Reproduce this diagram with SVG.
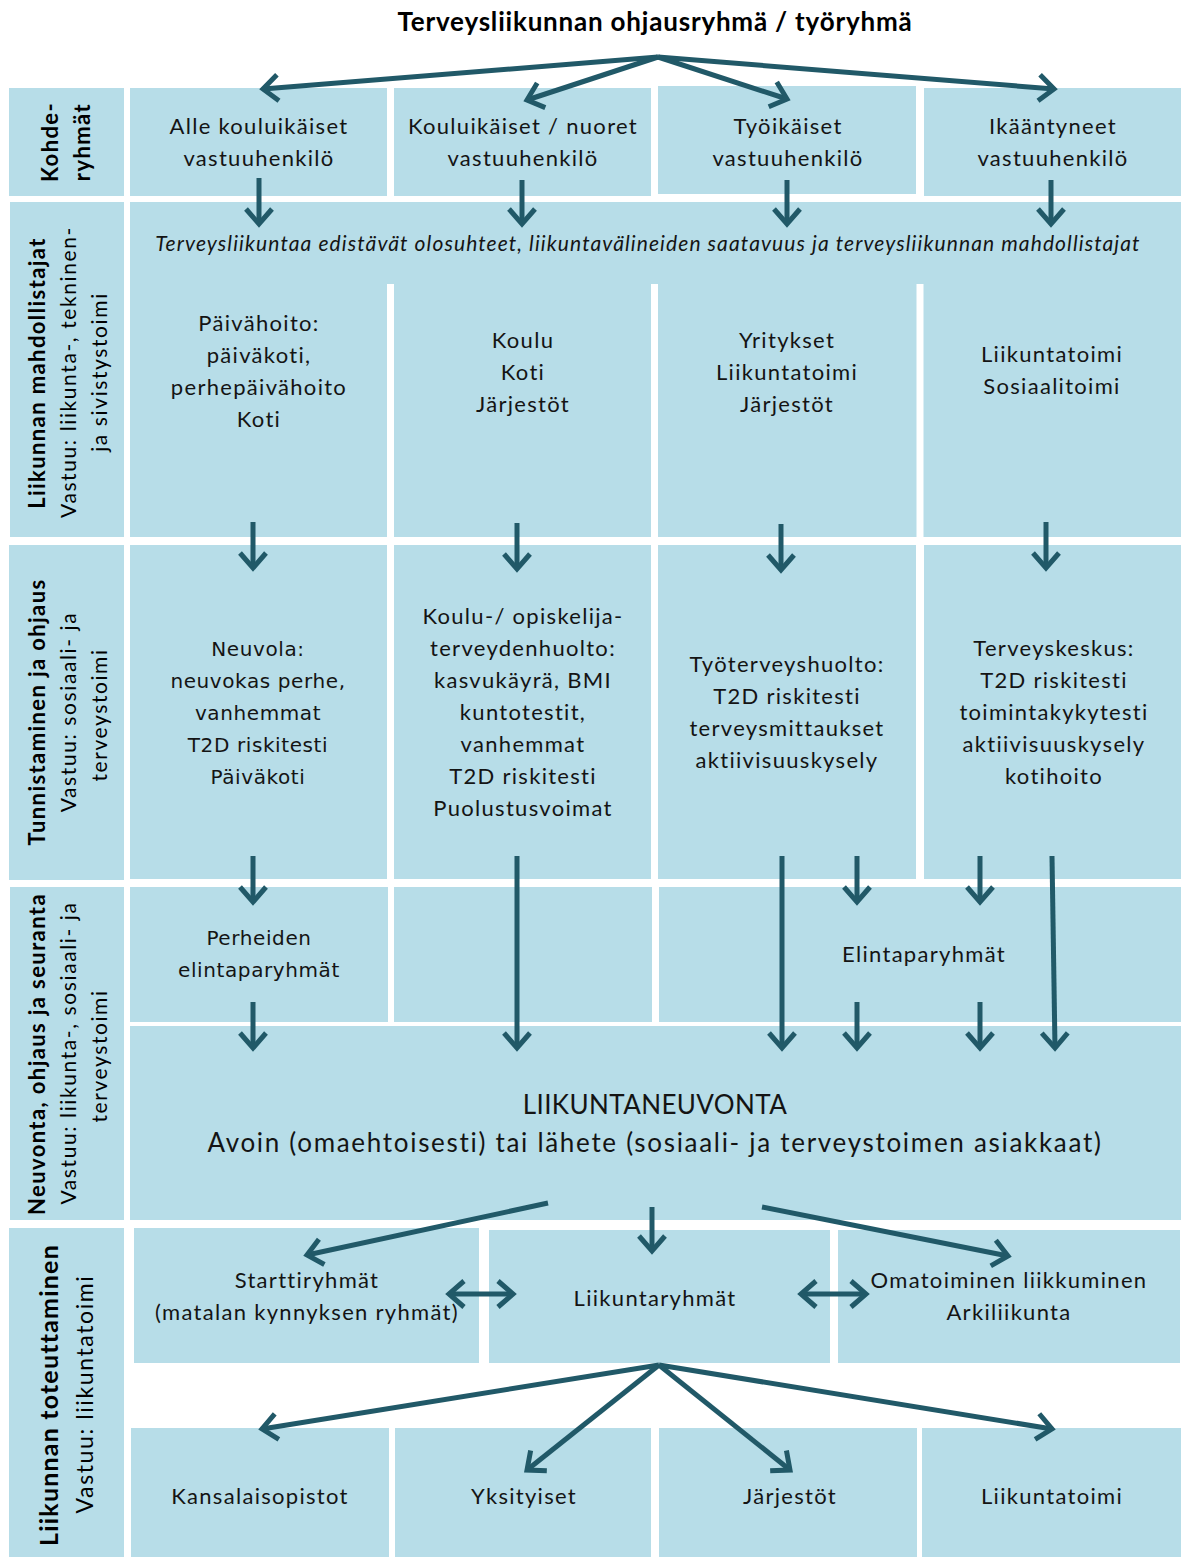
<svg xmlns="http://www.w3.org/2000/svg" width="1186" height="1557" viewBox="0 0 1186 1557">
<defs>
<style>
.box{fill:#b7dde8}
.t{font-family:Lato,"Liberation Sans",sans-serif;font-size:22px;letter-spacing:1.3px;fill:#141414;text-anchor:middle}
.v{font-family:"DejaVu Sans","Liberation Sans",sans-serif;font-size:20px;letter-spacing:0.6px;fill:#141414;text-anchor:middle}
.b{font-weight:bold}
.i{font-style:italic}
.lb{font-family:Lato,"Liberation Sans",sans-serif;font-size:22px;letter-spacing:1.4px;font-weight:bold;fill:#000;text-anchor:middle}
.ln{font-family:Lato,"Liberation Sans",sans-serif;font-size:21px;letter-spacing:1.6px;fill:#000;text-anchor:middle}
.arr{fill:none;stroke:#215968;stroke-width:5;marker-end:url(#ah)}
.dbl{fill:none;stroke:#215968;stroke-width:5;marker-end:url(#ah);marker-start:url(#ah)}
.gap{stroke:#fff;stroke-width:7}
</style>
<marker id="ah" markerUnits="userSpaceOnUse" viewBox="-20 -16 24 32" refX="0" refY="0" markerWidth="24" markerHeight="32" orient="auto-start-reverse" overflow="visible">
<path d="M-15,-13 L0,0 L-15,13" fill="none" stroke="#215968" stroke-width="5" stroke-linejoin="miter"/>
</marker>
</defs>
<rect width="1186" height="1557" fill="#fff"/>

<text class="t b" x="655" y="31" style="font-size:26px;letter-spacing:0.8px;fill:#000">Terveysliikunnan ohjausryhmä / työryhmä</text>

<!-- Left row labels -->
<g id="lbl-kohderyhmat">
<rect class="box" x="9" y="88" width="115" height="108"/>
<text class="lb" transform="translate(58,142) rotate(-90)">Kohde-</text>
<text class="lb" transform="translate(90,142) rotate(-90)">ryhmät</text>
</g>
<g id="lbl-mahdollistajat">
<rect class="box" x="10" y="202" width="114" height="335"/>
<text class="lb" transform="translate(45,373) rotate(-90)">Liikunnan mahdollistajat</text>
<text class="ln" transform="translate(76,372) rotate(-90)">Vastuu: liikunta-, tekninen-</text>
<text class="ln" transform="translate(107,372) rotate(-90)">ja sivistystoimi</text>
</g>
<g id="lbl-tunnistaminen">
<rect class="box" x="9" y="545" width="115" height="335"/>
<text class="lb" transform="translate(45,712) rotate(-90)">Tunnistaminen ja ohjaus</text>
<text class="ln" transform="translate(76,712) rotate(-90)">Vastuu: sosiaali- ja</text>
<text class="ln" transform="translate(107,715) rotate(-90)">terveystoimi</text>
</g>
<g id="lbl-neuvonta">
<rect class="box" x="10" y="887" width="114" height="333"/>
<text class="lb" transform="translate(45,1054) rotate(-90)">Neuvonta, ohjaus ja seuranta</text>
<text class="ln" transform="translate(76,1053) rotate(-90)">Vastuu: liikunta-, sosiaali- ja</text>
<text class="ln" transform="translate(107,1056) rotate(-90)">terveystoimi</text>
</g>
<g id="lbl-toteuttaminen">
<rect class="box" x="9" y="1228" width="115" height="329"/>
<text class="lb" transform="translate(58,1395) rotate(-90)" style="font-size:25px;letter-spacing:1.2px">Liikunnan toteuttaminen</text>
<text class="ln" transform="translate(93,1394) rotate(-90)" style="font-size:23px;letter-spacing:1.6px">Vastuu:  liikuntatoimi</text>
</g>

<!-- Row 1 -->
<g id="n-alle">
<rect class="box" x="130" y="88" width="257" height="108"/>
<text class="t" x="259" y="134">Alle kouluikäiset</text>
<text class="t" x="259" y="166">vastuuhenkilö</text>
</g>
<g id="n-kouluikaiset">
<rect class="box" x="394" y="88" width="257" height="108"/>
<text class="t" x="523" y="134">Kouluikäiset / nuoret</text>
<text class="t" x="523" y="166">vastuuhenkilö</text>
</g>
<g id="n-tyoikaiset">
<rect class="box" x="658" y="86" width="258" height="108"/>
<text class="t" x="788" y="134">Työikäiset</text>
<text class="t" x="788" y="166">vastuuhenkilö</text>
</g>
<g id="n-ikaantyneet">
<rect class="box" x="924" y="88" width="257" height="108"/>
<text class="t" x="1053" y="134">Ikääntyneet</text>
<text class="t" x="1053" y="166">vastuuhenkilö</text>
</g>

<!-- Row 2 -->
<g id="n-mahdollistajat">
<rect class="box" x="130" y="202" width="1051" height="335"/>
<line class="gap" x1="390.5" y1="284" x2="390.5" y2="537"/>
<line class="gap" x1="654.5" y1="284" x2="654.5" y2="537"/>
<line class="gap" x1="920" y1="284" x2="920" y2="537"/>
<text class="t i" x="648" y="251" style="font-size:21px;letter-spacing:1.1px">Terveysliikuntaa edistävät olosuhteet, liikuntavälineiden saatavuus ja terveysliikunnan mahdollistajat</text>
<text class="t" x="259" y="331">Päivähoito:</text>
<text class="t" x="259" y="363">päiväkoti,</text>
<text class="t" x="259" y="395">perhepäivähoito</text>
<text class="t" x="259" y="427">Koti</text>
<text class="t" x="523" y="348">Koulu</text>
<text class="t" x="523" y="380">Koti</text>
<text class="t" x="523" y="412">Järjestöt</text>
<text class="t" x="787" y="348">Yritykset</text>
<text class="t" x="787" y="380">Liikuntatoimi</text>
<text class="t" x="787" y="412">Järjestöt</text>
<text class="t" x="1052" y="362">Liikuntatoimi</text>
<text class="t" x="1052" y="394">Sosiaalitoimi</text>
</g>

<!-- Row 3 -->
<g id="n-neuvola">
<rect class="box" x="130" y="545" width="257" height="334"/>
<text class="v" x="258" y="656">Neuvola:</text>
<text class="v" x="258" y="688">neuvokas perhe,</text>
<text class="v" x="258" y="720">vanhemmat</text>
<text class="v" x="258" y="752">T2D riskitesti</text>
<text class="v" x="258" y="784">Päiväkoti</text>
</g>
<g id="n-kouluterveys">
<rect class="box" x="394" y="545" width="257" height="334"/>
<text class="t" x="523" y="624">Koulu-/ opiskelija-</text>
<text class="t" x="523" y="656">terveydenhuolto:</text>
<text class="t" x="523" y="688">kasvukäyrä, BMI</text>
<text class="t" x="523" y="720">kuntotestit,</text>
<text class="t" x="523" y="752">vanhemmat</text>
<text class="t" x="523" y="784">T2D riskitesti</text>
<text class="t" x="523" y="816">Puolustusvoimat</text>
</g>
<g id="n-tyoterveys">
<rect class="box" x="658" y="545" width="258" height="334"/>
<text class="t" x="787" y="672">Työterveyshuolto:</text>
<text class="t" x="787" y="704">T2D riskitesti</text>
<text class="t" x="787" y="736">terveysmittaukset</text>
<text class="t" x="787" y="768">aktiivisuuskysely</text>
</g>
<g id="n-terveyskeskus">
<rect class="box" x="924" y="545" width="257" height="334"/>
<text class="t" x="1054" y="656">Terveyskeskus:</text>
<text class="t" x="1054" y="688">T2D riskitesti</text>
<text class="t" x="1054" y="720">toimintakykytesti</text>
<text class="t" x="1054" y="752">aktiivisuuskysely</text>
<text class="t" x="1054" y="784">kotihoito</text>
</g>

<!-- Row 4 -->
<g id="n-perheiden">
<rect class="box" x="130" y="887" width="258" height="135"/>
<text class="v" x="259" y="945">Perheiden</text>
<text class="v" x="259" y="977">elintaparyhmät</text>
</g>
<g id="n-tyhja">
<rect class="box" x="394" y="887" width="258" height="135"/>
</g>
<g id="n-elintaparyhmat">
<rect class="box" x="659" y="887" width="522" height="135"/>
<text class="t" x="924" y="962">Elintaparyhmät</text>
</g>
<g id="n-liikuntaneuvonta">
<rect class="box" x="130" y="1026" width="1051" height="194"/>
<text class="t" x="655" y="1114" style="font-size:26px;letter-spacing:0.4px">LIIKUNTANEUVONTA</text>
<text class="t" x="655" y="1152" style="font-size:26px;letter-spacing:1.7px">Avoin (omaehtoisesti) tai lähete (sosiaali- ja terveystoimen asiakkaat)</text>
</g>

<!-- Row 5 -->
<g id="n-starttiryhmat">
<rect class="box" x="134" y="1228" width="345" height="135"/>
<text class="t" x="307" y="1288">Starttiryhmät</text>
<text class="t" x="307" y="1320">(matalan kynnyksen ryhmät)</text>
</g>
<g id="n-liikuntaryhmat">
<rect class="box" x="489" y="1230" width="341" height="133"/>
<text class="t" x="655" y="1306">Liikuntaryhmät</text>
</g>
<g id="n-omatoiminen">
<rect class="box" x="838" y="1230" width="342" height="133"/>
<text class="t" x="1009" y="1288">Omatoiminen liikkuminen</text>
<text class="t" x="1009" y="1320">Arkiliikunta</text>
</g>
<g id="n-kansalaisopistot">
<rect class="box" x="131" y="1428" width="258" height="129"/>
<text class="t" x="260" y="1504">Kansalaisopistot</text>
</g>
<g id="n-yksityiset">
<rect class="box" x="395" y="1428" width="256" height="129"/>
<text class="t" x="524" y="1504">Yksityiset</text>
</g>
<g id="n-jarjestot">
<rect class="box" x="659" y="1428" width="258" height="129"/>
<text class="t" x="790" y="1504">Järjestöt</text>
</g>
<g id="n-liikuntatoimi">
<rect class="box" x="922" y="1428" width="259" height="129"/>
<text class="t" x="1052" y="1504">Liikuntatoimi</text>
</g>

<!-- Connectors -->
<g id="connectors">
<path class="arr" d="M658,57 L263,89"/>
<path class="arr" d="M658,57 L527,100"/>
<path class="arr" d="M658,57 L787,99"/>
<path class="arr" d="M658,57 L1054,89"/>

<path class="arr" d="M259,178 V224"/>
<path class="arr" d="M522,180 V224"/>
<path class="arr" d="M787,180 V224"/>
<path class="arr" d="M1051,180 V224"/>

<path class="arr" d="M253,522 V568"/>
<path class="arr" d="M517,523 V569"/>
<path class="arr" d="M781,524 V570"/>
<path class="arr" d="M1046,522 V568"/>

<path class="arr" d="M253,856 V902"/>
<path class="arr" d="M517,856 V1048"/>
<path class="arr" d="M782,856 V1048"/>
<path class="arr" d="M857,856 V902"/>
<path class="arr" d="M980,856 V902"/>
<path class="arr" d="M1052,856 L1055,1048"/>

<path class="arr" d="M253,1002 V1048"/>
<path class="arr" d="M857,1002 V1048"/>
<path class="arr" d="M980,1002 V1048"/>

<path class="arr" d="M548,1203 L307,1255"/>
<path class="arr" d="M652,1207 V1251"/>
<path class="arr" d="M762,1207 L1008,1256"/>

<path class="dbl" d="M449,1294 H513"/>
<path class="dbl" d="M801,1294 H866"/>

<path class="arr" d="M659,1365 L262,1429"/>
<path class="arr" d="M659,1365 L527,1470"/>
<path class="arr" d="M659,1365 L790,1470"/>
<path class="arr" d="M659,1365 L1052,1429"/>
</g>
</svg>
